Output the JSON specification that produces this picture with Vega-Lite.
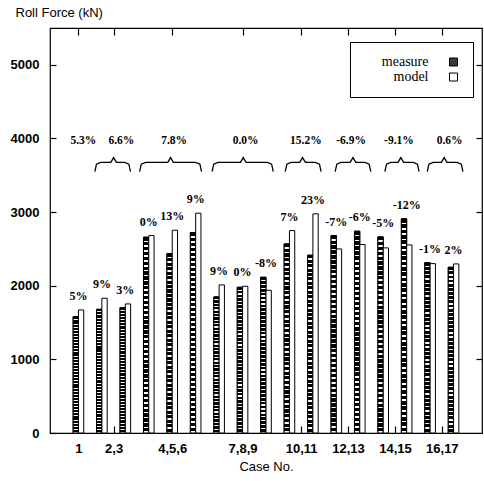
{
  "$schema": "https://vega.github.io/schema/vega-lite/v6.json",
  "width": 432,
  "height": 405,
  "autosize": {"type": "none"},
  "padding": {"left": 50, "top": 28, "right": 2, "bottom": 48},
  "background": "white",
  "config": {
    "view": {"stroke": "black", "strokeWidth": 1.2},
    "axis": {
      "grid": false,
      "domain": false,
      "tickColor": "black",
      "tickWidth": 1.2,
      "labelColor": "black",
      "titleColor": "black",
      "labelFont": "Liberation Sans",
      "titleFont": "Liberation Sans",
      "labelFontSize": 13,
      "titleFontSize": 13,
      "labelFontWeight": "bold",
      "titleFontWeight": "normal"
    }
  },
  "datasets": {
    "bars": [
      {"case": 1, "measure": 1580, "model": 1671, "pct": "5%"},
      {"case": 2, "measure": 1680, "model": 1830, "pct": "9%"},
      {"case": 3, "measure": 1703, "model": 1753, "pct": "3%"},
      {"case": 4, "measure": 2659, "model": 2681, "pct": "0%"},
      {"case": 5, "measure": 2436, "model": 2754, "pct": "13%"},
      {"case": 6, "measure": 2722, "model": 2985, "pct": "9%"},
      {"case": 7, "measure": 1848, "model": 2011, "pct": "9%"},
      {"case": 8, "measure": 1979, "model": 1993, "pct": "0%"},
      {"case": 9, "measure": 2115, "model": 1938, "pct": "-8%"},
      {"case": 10, "measure": 2568, "model": 2749, "pct": "7%"},
      {"case": 11, "measure": 2414, "model": 2976, "pct": "23%"},
      {"case": 12, "measure": 2681, "model": 2500, "pct": "-7%"},
      {"case": 13, "measure": 2740, "model": 2559, "pct": "-6%"},
      {"case": 14, "measure": 2663, "model": 2514, "pct": "-5%"},
      {"case": 15, "measure": 2908, "model": 2554, "pct": "-12%"},
      {"case": 16, "measure": 2314, "model": 2300, "pct": "-1%"},
      {"case": 17, "measure": 2251, "model": 2296, "pct": "2%"}
    ],
    "groups": [
      {"x": 1.21, "label": "5.3%"},
      {"x": 2.83, "label": "6.6%"},
      {"x": 5.08, "label": "7.8%"},
      {"x": 8.13, "label": "0.0%"},
      {"x": 10.7, "label": "15.2%"},
      {"x": 12.63, "label": "-6.9%"},
      {"x": 14.67, "label": "-9.1%"},
      {"x": 16.83, "label": "0.6%"}
    ],
    "braces": [
      {"g": "A", "x": 1.70, "y": 3550}, {"g": "A", "x": 1.77, "y": 3650}, {"g": "A", "x": 1.95, "y": 3675}, {"g": "A", "x": 2.38, "y": 3675}, {"g": "A", "x": 2.50, "y": 3740}, {"g": "A", "x": 2.62, "y": 3675}, {"g": "A", "x": 2.97, "y": 3675}, {"g": "A", "x": 3.15, "y": 3650}, {"g": "A", "x": 3.22, "y": 3550},
      {"g": "B", "x": 3.61, "y": 3550}, {"g": "B", "x": 3.68, "y": 3650}, {"g": "B", "x": 3.86, "y": 3675}, {"g": "B", "x": 4.81, "y": 3675}, {"g": "B", "x": 4.93, "y": 3740}, {"g": "B", "x": 5.05, "y": 3675}, {"g": "B", "x": 6.00, "y": 3675}, {"g": "B", "x": 6.18, "y": 3650}, {"g": "B", "x": 6.25, "y": 3550},
      {"g": "C", "x": 6.70, "y": 3550}, {"g": "C", "x": 6.77, "y": 3650}, {"g": "C", "x": 6.95, "y": 3675}, {"g": "C", "x": 7.91, "y": 3675}, {"g": "C", "x": 8.03, "y": 3740}, {"g": "C", "x": 8.15, "y": 3675}, {"g": "C", "x": 9.06, "y": 3675}, {"g": "C", "x": 9.24, "y": 3650}, {"g": "C", "x": 9.31, "y": 3550},
      {"g": "D", "x": 9.82, "y": 3550}, {"g": "D", "x": 9.89, "y": 3650}, {"g": "D", "x": 10.07, "y": 3675}, {"g": "D", "x": 10.44, "y": 3675}, {"g": "D", "x": 10.56, "y": 3740}, {"g": "D", "x": 10.68, "y": 3675}, {"g": "D", "x": 11.10, "y": 3675}, {"g": "D", "x": 11.28, "y": 3650}, {"g": "D", "x": 11.35, "y": 3550},
      {"g": "E", "x": 11.95, "y": 3550}, {"g": "E", "x": 12.02, "y": 3650}, {"g": "E", "x": 12.20, "y": 3675}, {"g": "E", "x": 12.59, "y": 3675}, {"g": "E", "x": 12.71, "y": 3740}, {"g": "E", "x": 12.83, "y": 3675}, {"g": "E", "x": 13.22, "y": 3675}, {"g": "E", "x": 13.40, "y": 3650}, {"g": "E", "x": 13.47, "y": 3550},
      {"g": "F", "x": 14.07, "y": 3550}, {"g": "F", "x": 14.14, "y": 3650}, {"g": "F", "x": 14.32, "y": 3675}, {"g": "F", "x": 14.63, "y": 3675}, {"g": "F", "x": 14.75, "y": 3740}, {"g": "F", "x": 14.87, "y": 3675}, {"g": "F", "x": 15.28, "y": 3675}, {"g": "F", "x": 15.46, "y": 3650}, {"g": "F", "x": 15.53, "y": 3550},
      {"g": "G", "x": 15.88, "y": 3550}, {"g": "G", "x": 15.95, "y": 3650}, {"g": "G", "x": 16.13, "y": 3675}, {"g": "G", "x": 16.48, "y": 3675}, {"g": "G", "x": 16.60, "y": 3740}, {"g": "G", "x": 16.72, "y": 3675}, {"g": "G", "x": 17.15, "y": 3675}, {"g": "G", "x": 17.33, "y": 3650}, {"g": "G", "x": 17.40, "y": 3550}
    ]
  },
  "layer": [
    {
      "data": {"name": "bars"},
      "mark": {"type": "bar", "width": 5.3, "xOffset": -2.65, "stroke": "black", "strokeWidth": 1},
      "encoding": {
        "x": {
          "field": "case",
          "type": "quantitative",
          "scale": {"domain": [0, 18], "nice": false, "zero": false},
          "axis": {
            "orient": "bottom",
            "values": [1, 2.5, 5, 8, 10.5, 12.5, 14.5, 16.5],
            "labelExpr": "datum.value == 1 ? '1' : datum.value == 2.5 ? '2,3' : datum.value == 5 ? '4,5,6' : datum.value == 8 ? '7,8,9' : datum.value == 10.5 ? '10,11' : datum.value == 12.5 ? '12,13' : datum.value == 14.5 ? '14,15' : '16,17'",
            "tickSize": -7,
            "labelPadding": 16,
            "labelFlush": false,
            "labelOverlap": false,
            "title": "Case No.",
            "titlePadding": 5
          }
        },
        "y": {
          "field": "measure",
          "type": "quantitative",
          "scale": {"domain": [0, 5500], "nice": false, "zero": true},
          "axis": {
            "orient": "left",
            "values": [0, 1000, 2000, 3000, 4000, 5000],
            "format": "d",
            "tickSize": -6,
            "labelPadding": 17,
            "title": "Roll Force (kN)",
            "titleAngle": 0,
            "titleAlign": "left",
            "titleBaseline": "middle",
            "titleX": -35,
            "titleY": -16
          }
        },
        "fill": {
          "datum": "measure",
          "scale": {"domain": ["measure", "model"], "range": ["#3a3a3a", "white"]},
          "legend": {
            "title": null,
            "orient": "none",
            "legendX": 300,
            "legendY": 14,
            "strokeColor": "black",
            "fillColor": "white",
            "padding": 13,
            "symbolType": "square",
            "symbolSize": 64,
            "symbolStrokeColor": "black",
            "symbolStrokeWidth": 1,
            "labelFont": "Liberation Serif",
            "labelFontSize": 14,
            "labelColor": "black",
            "labelAlign": "right",
            "labelOffset": -32,
            "symbolOffset": 83.5,
            "rowPadding": 1
          }
        }
      }
    },
    {
      "data": {"name": "bars"},
      "mark": {
        "type": "bar",
        "width": 5.3,
        "xOffset": -2.65,
        "stroke": "black",
        "strokeWidth": 1,
        "fill": {
          "gradient": "linear",
          "x1": 0, "y1": 0, "x2": 0, "y2": 1,
          "stops": [
            {"offset": 0, "color": "#000"}, {"offset": 0.017, "color": "#000"}, {"offset": 0.017, "color": "#fff"}, {"offset": 0.025, "color": "#fff"},
            {"offset": 0.025, "color": "#000"}, {"offset": 0.042, "color": "#000"}, {"offset": 0.042, "color": "#fff"}, {"offset": 0.05, "color": "#fff"},
            {"offset": 0.05, "color": "#000"}, {"offset": 0.067, "color": "#000"}, {"offset": 0.067, "color": "#fff"}, {"offset": 0.075, "color": "#fff"},
            {"offset": 0.075, "color": "#000"}, {"offset": 0.092, "color": "#000"}, {"offset": 0.092, "color": "#fff"}, {"offset": 0.1, "color": "#fff"},
            {"offset": 0.1, "color": "#000"}, {"offset": 0.117, "color": "#000"}, {"offset": 0.117, "color": "#fff"}, {"offset": 0.125, "color": "#fff"},
            {"offset": 0.125, "color": "#000"}, {"offset": 0.142, "color": "#000"}, {"offset": 0.142, "color": "#fff"}, {"offset": 0.15, "color": "#fff"},
            {"offset": 0.15, "color": "#000"}, {"offset": 0.167, "color": "#000"}, {"offset": 0.167, "color": "#fff"}, {"offset": 0.175, "color": "#fff"},
            {"offset": 0.175, "color": "#000"}, {"offset": 0.192, "color": "#000"}, {"offset": 0.192, "color": "#fff"}, {"offset": 0.2, "color": "#fff"},
            {"offset": 0.2, "color": "#000"}, {"offset": 0.217, "color": "#000"}, {"offset": 0.217, "color": "#fff"}, {"offset": 0.225, "color": "#fff"},
            {"offset": 0.225, "color": "#000"}, {"offset": 0.242, "color": "#000"}, {"offset": 0.242, "color": "#fff"}, {"offset": 0.25, "color": "#fff"},
            {"offset": 0.25, "color": "#000"}, {"offset": 0.267, "color": "#000"}, {"offset": 0.267, "color": "#fff"}, {"offset": 0.275, "color": "#fff"},
            {"offset": 0.275, "color": "#000"}, {"offset": 0.292, "color": "#000"}, {"offset": 0.292, "color": "#fff"}, {"offset": 0.3, "color": "#fff"},
            {"offset": 0.3, "color": "#000"}, {"offset": 0.317, "color": "#000"}, {"offset": 0.317, "color": "#fff"}, {"offset": 0.325, "color": "#fff"},
            {"offset": 0.325, "color": "#000"}, {"offset": 0.342, "color": "#000"}, {"offset": 0.342, "color": "#fff"}, {"offset": 0.35, "color": "#fff"},
            {"offset": 0.35, "color": "#000"}, {"offset": 0.367, "color": "#000"}, {"offset": 0.367, "color": "#fff"}, {"offset": 0.375, "color": "#fff"},
            {"offset": 0.375, "color": "#000"}, {"offset": 0.392, "color": "#000"}, {"offset": 0.392, "color": "#fff"}, {"offset": 0.4, "color": "#fff"},
            {"offset": 0.4, "color": "#000"}, {"offset": 0.417, "color": "#000"}, {"offset": 0.417, "color": "#fff"}, {"offset": 0.425, "color": "#fff"},
            {"offset": 0.425, "color": "#000"}, {"offset": 0.442, "color": "#000"}, {"offset": 0.442, "color": "#fff"}, {"offset": 0.45, "color": "#fff"},
            {"offset": 0.45, "color": "#000"}, {"offset": 0.467, "color": "#000"}, {"offset": 0.467, "color": "#fff"}, {"offset": 0.475, "color": "#fff"},
            {"offset": 0.475, "color": "#000"}, {"offset": 0.492, "color": "#000"}, {"offset": 0.492, "color": "#fff"}, {"offset": 0.5, "color": "#fff"},
            {"offset": 0.5, "color": "#000"}, {"offset": 0.517, "color": "#000"}, {"offset": 0.517, "color": "#fff"}, {"offset": 0.525, "color": "#fff"},
            {"offset": 0.525, "color": "#000"}, {"offset": 0.542, "color": "#000"}, {"offset": 0.542, "color": "#fff"}, {"offset": 0.55, "color": "#fff"},
            {"offset": 0.55, "color": "#000"}, {"offset": 0.567, "color": "#000"}, {"offset": 0.567, "color": "#fff"}, {"offset": 0.575, "color": "#fff"},
            {"offset": 0.575, "color": "#000"}, {"offset": 0.592, "color": "#000"}, {"offset": 0.592, "color": "#fff"}, {"offset": 0.6, "color": "#fff"},
            {"offset": 0.6, "color": "#000"}, {"offset": 0.617, "color": "#000"}, {"offset": 0.617, "color": "#fff"}, {"offset": 0.625, "color": "#fff"},
            {"offset": 0.625, "color": "#000"}, {"offset": 0.642, "color": "#000"}, {"offset": 0.642, "color": "#fff"}, {"offset": 0.65, "color": "#fff"},
            {"offset": 0.65, "color": "#000"}, {"offset": 0.667, "color": "#000"}, {"offset": 0.667, "color": "#fff"}, {"offset": 0.675, "color": "#fff"},
            {"offset": 0.675, "color": "#000"}, {"offset": 0.692, "color": "#000"}, {"offset": 0.692, "color": "#fff"}, {"offset": 0.7, "color": "#fff"},
            {"offset": 0.7, "color": "#000"}, {"offset": 0.717, "color": "#000"}, {"offset": 0.717, "color": "#fff"}, {"offset": 0.725, "color": "#fff"},
            {"offset": 0.725, "color": "#000"}, {"offset": 0.742, "color": "#000"}, {"offset": 0.742, "color": "#fff"}, {"offset": 0.75, "color": "#fff"},
            {"offset": 0.75, "color": "#000"}, {"offset": 0.767, "color": "#000"}, {"offset": 0.767, "color": "#fff"}, {"offset": 0.775, "color": "#fff"},
            {"offset": 0.775, "color": "#000"}, {"offset": 0.792, "color": "#000"}, {"offset": 0.792, "color": "#fff"}, {"offset": 0.8, "color": "#fff"},
            {"offset": 0.8, "color": "#000"}, {"offset": 0.817, "color": "#000"}, {"offset": 0.817, "color": "#fff"}, {"offset": 0.825, "color": "#fff"},
            {"offset": 0.825, "color": "#000"}, {"offset": 0.842, "color": "#000"}, {"offset": 0.842, "color": "#fff"}, {"offset": 0.85, "color": "#fff"},
            {"offset": 0.85, "color": "#000"}, {"offset": 0.867, "color": "#000"}, {"offset": 0.867, "color": "#fff"}, {"offset": 0.875, "color": "#fff"},
            {"offset": 0.875, "color": "#000"}, {"offset": 0.892, "color": "#000"}, {"offset": 0.892, "color": "#fff"}, {"offset": 0.9, "color": "#fff"},
            {"offset": 0.9, "color": "#000"}, {"offset": 0.917, "color": "#000"}, {"offset": 0.917, "color": "#fff"}, {"offset": 0.925, "color": "#fff"},
            {"offset": 0.925, "color": "#000"}, {"offset": 0.942, "color": "#000"}, {"offset": 0.942, "color": "#fff"}, {"offset": 0.95, "color": "#fff"},
            {"offset": 0.95, "color": "#000"}, {"offset": 0.967, "color": "#000"}, {"offset": 0.967, "color": "#fff"}, {"offset": 0.975, "color": "#fff"},
            {"offset": 0.975, "color": "#000"}, {"offset": 0.992, "color": "#000"}, {"offset": 0.992, "color": "#fff"}, {"offset": 1, "color": "#fff"}
          ]
        }
      },
      "encoding": {
        "x": {"field": "case", "type": "quantitative", "axis": null},
        "y": {"field": "measure", "type": "quantitative", "axis": null}
      }
    },
    {
      "data": {"name": "bars"},
      "mark": {"type": "bar", "width": 5.3, "xOffset": 2.65, "stroke": "black", "strokeWidth": 1},
      "encoding": {
        "x": {
          "field": "case",
          "type": "quantitative",
          "axis": {"orient": "top", "values": [1, 2.5, 5, 8, 10.5, 12.5, 14.5, 16.5], "labels": false, "tickSize": -7, "title": null}
        },
        "y": {
          "field": "model",
          "type": "quantitative",
          "axis": {"orient": "right", "values": [1000, 2000, 3000, 4000, 5000], "labels": false, "tickSize": -6, "title": null}
        },
        "fill": {"datum": "model"}
      }
    },
    {
      "data": {"name": "bars"},
      "transform": [{"calculate": "max(datum.measure, datum.model)", "as": "top"}],
      "mark": {"type": "text", "font": "Liberation Serif", "fontSize": 12, "fontWeight": "bold", "baseline": "middle", "dy": -14, "color": "black"},
      "encoding": {
        "x": {"field": "case", "type": "quantitative", "axis": null},
        "y": {"field": "top", "type": "quantitative", "axis": null},
        "text": {"field": "pct"}
      }
    },
    {
      "data": {"name": "groups"},
      "mark": {"type": "text", "font": "Liberation Serif", "fontSize": 11.5, "fontWeight": "bold", "baseline": "middle", "color": "black"},
      "encoding": {
        "x": {"field": "x", "type": "quantitative", "axis": null},
        "y": {"datum": 3960, "type": "quantitative", "axis": null},
        "text": {"field": "label"}
      }
    },
    {
      "data": {"name": "braces"},
      "mark": {"type": "line", "color": "black", "strokeWidth": 1.3},
      "encoding": {
        "x": {"field": "x", "type": "quantitative", "axis": null},
        "y": {"field": "y", "type": "quantitative", "axis": null},
        "detail": {"field": "g"}
      }
    }
  ],
  "resolve": {"axis": {"x": "independent", "y": "independent"}}
}
